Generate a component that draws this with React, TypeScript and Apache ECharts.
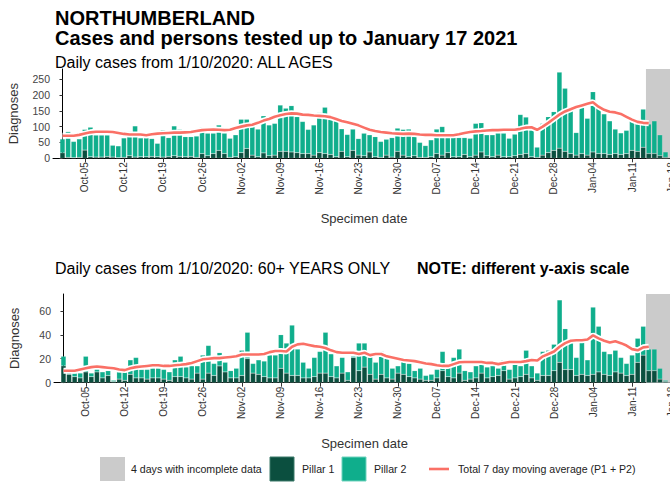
import React, { useEffect, useRef } from "react";
import * as echarts from "echarts";

// Day 0 = 1 October 2020, one value per day up to 17 January 2021
const START_YEAR = 2020;
const START_MONTH = 9; // October (0-based)
const START_DAY = 1;
const MONTHS = ["Jan", "Feb", "Mar", "Apr", "May", "Jun", "Jul", "Aug", "Sep", "Oct", "Nov", "Dec"];

// ALL AGES
const allPillar1 = [
  17, 3, 2, 3, 26, 5, 4, 4, 6, 4, 2, 3, 8, 4, 5, 5, 6, 5, 4, 6,
  8, 6, 5, 6, 3, 15, 8, 15, 25, 15, 3, 5, 18, 31, 10, 5, 17, 8, 10, 22,
  22, 20, 18, 15, 15, 10, 18, 15, 12, 5, 22, 5, 25, 10, 8, 20, 5, 3, 10, 4,
  22, 10, 5, 8, 3, 3, 5, 15, 10, 18, 5, 5, 12, 5, 10, 20, 8, 5, 10, 5,
  5, 8, 12, 15, 5, 3, 10, 18, 25, 32, 22, 15, 10, 15, 10, 20, 15, 15, 12, 15,
  12, 15, 25, 22, 35, 15, 15, 8, 3,
];
const allPillar2 = [
  44, 81, 51, 58, 65, 93, 69, 69, 67, 37, 37, 61, 76, 98, 59, 59, 56, 42, 86, 59,
  94, 85, 63, 62, 67, 82, 71, 64, 80, 64, 60, 69, 105, 92, 105, 87, 117, 97, 100, 146,
  136, 146, 113, 101, 76, 95, 126, 146, 110, 113, 71, 70, 67, 52, 71, 54, 63, 50, 50, 61,
  73, 81, 87, 60, 47, 37, 53, 77, 90, 50, 63, 60, 53, 58, 100, 92, 66, 69, 69, 74,
  58, 68, 126, 115, 84, 32, 100, 113, 122, 240, 199, 140, 71, 146, 116, 190, 150, 125, 106, 77,
  68, 73, 103, 100, 120, 93, 103, 66, 17,
];
const allMovingAvg = [
  71, 71, 71, 74, 78, 82, 84, 84, 84, 83, 80, 77, 75, 75, 75, 73, 76, 78, 79, 80,
  81, 81, 82, 83, 86, 89, 90, 91, 90, 89, 90, 96, 100, 104, 106, 112, 119, 124, 131, 136,
  140, 142, 141, 138, 137, 135, 134, 133, 130, 124, 118, 114, 109, 104, 97, 90, 86, 83, 81, 79,
  78, 77, 78, 77, 75, 74, 74, 73, 73, 73, 73, 76, 80, 83, 85, 86, 88, 89, 89, 90,
  90, 90, 93, 97, 98, 90, 100, 112, 125, 138, 148, 155, 162, 167, 172, 177, 163, 153, 147, 145,
  140, 131, 122, 115, 112, 111,
];

// 60+ YEARS ONLY
const oldPillar1 = [
  14, 7, 5, 4, 9, 5, 9, 4, 6, 1, 3, 2, 7, 4, 4, 3, 4, 4, 3, 2,
  5, 5, 4, 3, 8, 3, 8, 6, 14, 9, 4, 4, 6, 20, 8, 7, 5, 4, 4, 12,
  8, 6, 6, 4, 4, 5, 8, 8, 5, 4, 8, 2, 21, 10, 13, 7, 3, 7, 4, 3,
  8, 7, 5, 4, 3, 2, 2, 4, 10, 5, 4, 8, 2, 3, 4, 8, 4, 5, 6, 10,
  3, 4, 5, 7, 4, 2, 6, 6, 10, 17, 11, 11, 6, 7, 6, 7, 9, 7, 6, 9,
  8, 6, 7, 17, 23, 10, 10, 3, 1,
];
const oldPillar2 = [
  8, 2, 3, 4, 13, 3, 5, 5, 4, 1, 6, 7, 12, 17, 7, 8, 8, 8, 8, 7,
  14, 17, 9, 11, 6, 20, 23, 10, 11, 8, 6, 8, 21, 22, 8, 12, 13, 19, 19, 28,
  25, 42, 22, 13, 8, 16, 18, 34, 19, 10, 13, 7, 1, 23, 20, 15, 14, 19, 16, 9,
  6, 13, 11, 6, 9, 4, 5, 7, 16, 11, 17, 20, 8, 6, 10, 11, 9, 9, 6, 9,
  8, 13, 9, 20, 10, 6, 20, 21, 22, 52, 34, 24, 15, 28, 13, 56, 38, 19, 18, 18,
  13, 10, 16, 20, 24, 18, 18, 9, 1,
];
const oldMovingAvg = [
  10, 10, 10, 11, 12, 13, 13.5, 13, 12.5, 12, 11, 10.5, 12, 13, 13.5, 14, 14.5, 14.5, 14, 14,
  14.5, 15, 15.5, 16.5, 18, 19.5, 20, 20.5, 20.5, 21, 21.5, 22, 23.5, 23.5, 23.5, 23.5, 24, 25.5, 26.5, 26.5,
  26, 30, 32, 32.5, 31.5, 30.5, 30, 29, 27, 25.5, 25, 25, 25, 24, 25, 23, 24, 24, 22, 21,
  20, 19, 18.5, 18, 17, 16, 15.5, 14.5, 14, 14, 15.5, 17, 17.3, 17.3, 17.3, 17.3, 16.5, 16.5, 15.5, 16.5,
  17.3, 17.3, 17.3, 18, 19, 18.5, 22, 24, 26, 30, 33, 35, 35.4, 35.4, 36, 39.5, 37, 35, 33.5, 34.5,
  33, 31, 28, 27, 29.5, 30,
];

const xTickDays = [4, 11, 18, 25, 32, 39, 46, 53, 60, 67, 74, 81, 88, 95, 102, 109];
const allYTicks = [0, 50, 100, 150, 200, 250];
const oldYTicks = [0, 20, 40, 60];
const INCOMPLETE_DAYS = 4;

const FONT = "'Liberation Sans', Arial, Helvetica, sans-serif";
const COL_P1 = "#0b4f3f";
const COL_P2 = "#0fae8c";
const COL_MA = "#fa7066";
const COL_GREY = "#cbcbcb";

function dayLabel(v: number) {
  const d = new Date(START_YEAR, START_MONTH, START_DAY + Math.round(v));
  const dd = d.getDate();
  return MONTHS[d.getMonth()] + "-" + (dd < 10 ? "0" + dd : String(dd));
}

const pairs = (arr: number[]) => arr.map((v, i) => [i, v]);
// value first, day second: lets ECharts stack on the value dimension
const valueFirst = (arr: number[]) => arr.map((v, i) => [v, i]);

export default function App() {
  const ref = useRef<HTMLDivElement>(null);

  useEffect(() => {
    if (!ref.current) return;
    const chart = echarts.init(ref.current, undefined, { renderer: "svg" });
    const nDays = allPillar1.length;
    const xMin = -1.7;
    const xMax = nDays - 1 + 1.7;
    const incompleteStart = nDays - INCOMPLETE_DAYS - 0.5;

    const xAxisBase = (gridIndex: number) => ({
      type: "value",
      gridIndex,
      min: xMin,
      max: xMax,
      axisLine: { show: true, onZero: false, lineStyle: { color: "#000", width: 1 } },
      axisTick: { show: true, customValues: xTickDays, length: 4, lineStyle: { color: "#333", width: 1 } },
      axisLabel: {
        customValues: xTickDays,
        rotate: 90,
        fontSize: 10,
        fontFamily: FONT,
        color: "#333",
        margin: 4,
        formatter: (v: number) => dayLabel(v),
      },
      splitLine: { show: false },
      name: "Specimen date",
      nameLocation: "middle",
      nameGap: 54,
      nameTextStyle: { fontSize: 13, fontFamily: FONT, color: "#333" },
    });

    const yAxisBase = (gridIndex: number, max: number, ticks: number[]) => ({
      type: "value",
      gridIndex,
      min: 0,
      max,
      axisLine: { show: true, lineStyle: { color: "#000", width: 1 } },
      axisTick: { show: true, customValues: ticks, length: 3, lineStyle: { color: "#333", width: 1 } },
      axisLabel: { customValues: ticks, fontSize: 10.5, fontFamily: FONT, color: "#444", margin: 3 },
      splitLine: { show: false },
      name: "Diagnoses",
      nameLocation: "middle",
      nameRotate: 90,
      nameGap: 33,
      nameTextStyle: { fontSize: 13, fontFamily: FONT, color: "#333" },
    });

    const barSeries = (idx: number, name: string, arr: number[], color: string) => ({
      name,
      type: "bar",
      stack: "s" + idx,
      xAxisIndex: idx,
      yAxisIndex: idx,
      barWidth: 5,
      data: valueFirst(arr),
      encode: { x: 1, y: 0 },
      itemStyle: { color, borderColor: "rgba(255,255,255,0.35)", borderWidth: 0.4 },
      z: 2,
    });

    const panelSeries = (idx: number, p1: number[], p2: number[], ma: number[]) => [
      {
        type: "line",
        xAxisIndex: idx,
        yAxisIndex: idx,
        data: [[incompleteStart, 0]],
        symbol: "none",
        lineStyle: { opacity: 0 },
        silent: true,
        z: 1,
        markArea: {
          silent: true,
          itemStyle: { color: COL_GREY },
          data: [[{ xAxis: incompleteStart }, { xAxis: xMax }]],
        },
      },
      barSeries(idx, "Pillar 1", p1, COL_P1),
      barSeries(idx, "Pillar 2", p2, COL_P2),
      {
        type: "line",
        xAxisIndex: idx,
        yAxisIndex: idx,
        data: pairs(ma),
        showSymbol: false,
        symbol: "none",
        lineStyle: { color: "#ffffff", width: 6 },
        z: 3,
        silent: true,
      },
      {
        name: "Total 7 day moving average (P1 + P2)",
        type: "line",
        xAxisIndex: idx,
        yAxisIndex: idx,
        data: pairs(ma),
        showSymbol: false,
        symbol: "none",
        lineStyle: { color: COL_MA, width: 2.6 },
        z: 4,
        silent: true,
      },
    ];

    const txt = (text: string, x: number, y: number, size: number, weight: string, fill = "#000") => ({
      type: "text",
      x,
      y,
      silent: true,
      style: { text, fontSize: size, fontWeight: weight, fontFamily: FONT, fill, verticalAlign: "middle" },
    });

    const legendY = 469;
    const graphic = [
      txt("NORTHUMBERLAND", 55, 18, 20, "bold"),
      txt("Cases and persons tested up to January 17 2021", 55, 38, 20, "bold"),
      txt("Daily cases from 1/10/2020: ALL AGES", 55, 62, 16, "normal"),
      txt("Daily cases from 1/10/2020: 60+ YEARS ONLY", 55, 268, 16, "normal"),
      txt("NOTE: different y-axis scale", 417, 268, 16, "bold"),
      { type: "rect", silent: true, shape: { x: 100, y: legendY - 12, width: 25, height: 24 }, style: { fill: COL_GREY } },
      txt("4 days with incomplete data", 131, legendY, 10.6, "normal", "#222"),
      { type: "rect", silent: true, shape: { x: 270, y: legendY - 12, width: 24, height: 24 }, style: { fill: COL_P1, stroke: "#3d7a6a", lineWidth: 1 } },
      txt("Pillar 1", 302, legendY, 10.6, "normal", "#222"),
      { type: "rect", silent: true, shape: { x: 342, y: legendY - 12, width: 24, height: 24 }, style: { fill: COL_P2, stroke: "#6fd3bd", lineWidth: 1 } },
      txt("Pillar 2", 374, legendY, 10.6, "normal", "#222"),
      { type: "line", silent: true, shape: { x1: 429, y1: legendY, x2: 449, y2: legendY }, style: { stroke: COL_MA, lineWidth: 2.6 } },
      txt("Total 7 day moving average (P1 + P2)", 458, legendY, 10.6, "normal", "#222"),
    ];

    chart.setOption({
      animation: false,
      backgroundColor: "#ffffff",
      textStyle: { fontFamily: FONT },
      grid: [
        { left: 53, top: 69, width: 622, height: 89.3, outerBoundsMode: "none", containLabel: false },
        { left: 54, top: 294, width: 621, height: 88.7, outerBoundsMode: "none", containLabel: false },
      ],
      xAxis: [xAxisBase(0), xAxisBase(1)],
      yAxis: [yAxisBase(0, 282, allYTicks), yAxisBase(1, 74, oldYTicks)],
      series: [
        ...panelSeries(0, allPillar1, allPillar2, allMovingAvg),
        ...panelSeries(1, oldPillar1, oldPillar2, oldMovingAvg),
      ],
      graphic,
    });

    return () => chart.dispose();
  }, []);

  return (
    <div style={{ position: "absolute", left: 0, top: 0, width: 670, height: 485, overflow: "hidden", background: "#fff" }}>
      <div ref={ref} style={{ width: 700, height: 485 }} />
    </div>
  );
}
